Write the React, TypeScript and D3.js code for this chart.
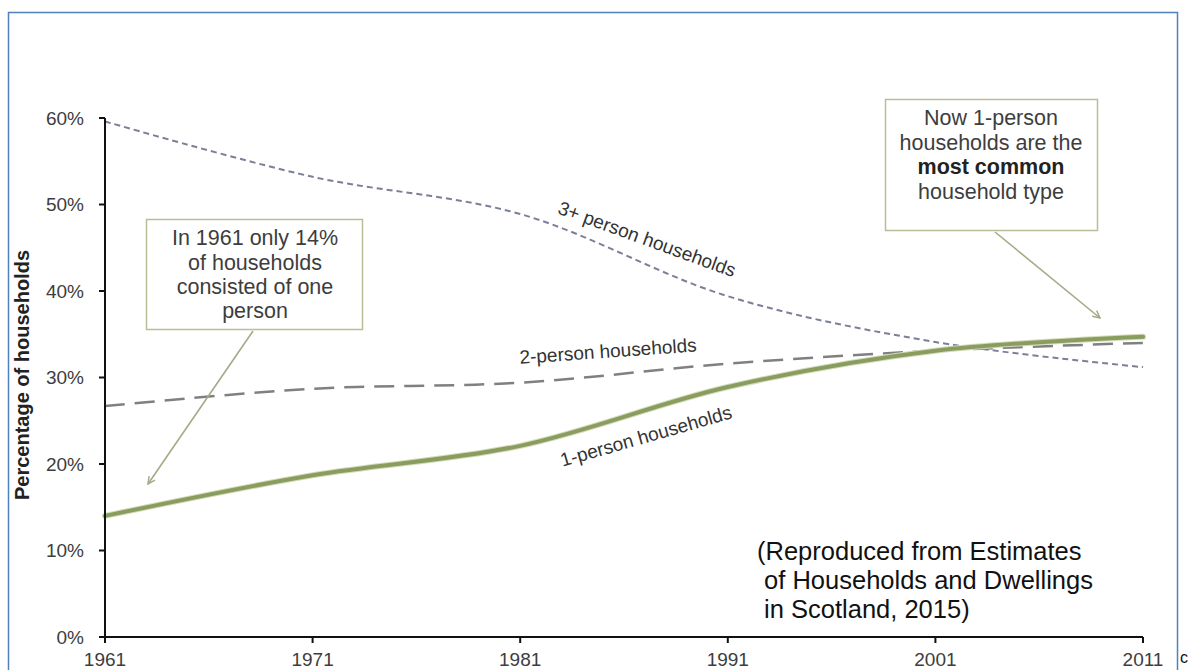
import React from "react";
import * as d3 from "d3";

// Census years and household-size shares (% of all households)
const years = [1961, 1971, 1981, 1991, 2001, 2011];
const onePerson = [14.0, 18.7, 22.1, 28.9, 33.1, 34.7];
const twoPerson = [26.7, 28.7, 29.4, 31.6, 33.1, 34.0];
const threePlus = [59.6, 53.2, 48.9, 39.4, 34.1, 31.2];
const yTicks = [0, 10, 20, 30, 40, 50, 60];

const W = 1193;
const H = 670;
const FONT = "'Liberation Sans', Arial, sans-serif";

const x = d3.scaleLinear().domain([1961, 2011]).range([105, 1143]);
const y = d3.scaleLinear().domain([0, 60]).range([637, 118]);

const lineGen = d3
  .line<number>()
  .x((_, i) => x(years[i]))
  .y((d) => y(d))
  .curve(d3.curveCatmullRom.alpha(0.5));

const boxStroke = "#b7bf98";
const arrowColor = "#a3ab86";
const textGrey = "#3d3d3d";

export default function App() {
  return (
    <svg
      width={W}
      height={H}
      style={{ position: "absolute", left: 0, top: 0, background: "#fff" }}
      fontFamily={FONT}
    >
      <defs>
        <marker
          id="arrowHead"
          viewBox="0 0 10 10"
          refX="9"
          refY="5"
          markerWidth="9"
          markerHeight="9"
          markerUnits="userSpaceOnUse"
          orient="auto"
        >
          <path d="M1,1 L9,5 L1,9" fill="none" stroke={arrowColor} strokeWidth={1.6} />
        </marker>
      </defs>

      {/* outer frame */}
      <rect x={8.5} y={12.5} width={1169} height={700} fill="none" stroke="#4f81bd" strokeWidth={1.5} />

      {/* series */}
      <path d={lineGen(threePlus) ?? ""} fill="none" stroke="#7b7f98" strokeWidth={2} strokeDasharray="6 4" />
      <path d={lineGen(twoPerson) ?? ""} fill="none" stroke="#808080" strokeWidth={2.5} strokeDasharray="20 10" />
      <path d={lineGen(onePerson) ?? ""} fill="none" stroke="#d3dcbc" strokeWidth={6} strokeLinecap="round" />
      <path d={lineGen(onePerson) ?? ""} fill="none" stroke="#8a9d5e" strokeWidth={4} strokeLinecap="round" />

      {/* y axis */}
      <line x1={x(1961)} x2={x(1961)} y1={y(60)} y2={y(0)} stroke="#111" strokeWidth={2} />
      {yTicks.map((t) => (
        <g key={t}>
          <line x1={x(1961) - 6} x2={x(1961)} y1={y(t)} y2={y(t)} stroke="#111" strokeWidth={2} />
          <text x={84} y={y(t)} dy="0.35em" textAnchor="end" fontSize={19} fill={textGrey}>
            {t}%
          </text>
        </g>
      ))}

      {/* x axis */}
      <line x1={x(1961)} x2={x(2011)} y1={y(0)} y2={y(0)} stroke="#111" strokeWidth={2} />
      {years.map((yr) => (
        <g key={yr}>
          <line x1={x(yr)} x2={x(yr)} y1={y(0)} y2={y(0) + 6} stroke="#111" strokeWidth={2} />
          <text x={x(yr)} y={666} textAnchor="middle" fontSize={19} fill={textGrey}>
            {yr}
          </text>
        </g>
      ))}

      {/* y axis title */}
      <text
        transform="translate(29,375) rotate(-90)"
        textAnchor="middle"
        fontSize={20}
        fontWeight="bold"
        fill="#222"
      >
        Percentage of households
      </text>

      {/* series labels */}
      <text transform="translate(647,239) rotate(20)" textAnchor="middle" dy="0.35em" fontSize={19} fill="#333">
        3+ person households
      </text>
      <text transform="translate(608,351) rotate(-4)" textAnchor="middle" dy="0.35em" fontSize={19} fill="#333">
        2-person households
      </text>
      <text transform="translate(646,436) rotate(-16)" textAnchor="middle" dy="0.35em" fontSize={19} fill="#333">
        1-person households
      </text>

      {/* callout: 1961 */}
      <rect x={146.5} y={219.5} width={216} height={110} fill="#fff" stroke={boxStroke} strokeWidth={1.5} />
      <g fontSize={21.5} fill={textGrey} textAnchor="middle">
        <text x={255} y={245}>In 1961 only 14%</text>
        <text x={255} y={270}>of households</text>
        <text x={255} y={294}>consisted of one</text>
        <text x={255} y={318}>person</text>
      </g>
      <line x1={253} y1={331} x2={148} y2={484} stroke={arrowColor} strokeWidth={1.6} markerEnd="url(#arrowHead)" />

      {/* callout: 2011 */}
      <rect x={885.5} y={99.5} width={212} height={131} fill="#fff" stroke={boxStroke} strokeWidth={1.5} />
      <g fontSize={21.5} fill={textGrey} textAnchor="middle">
        <text x={991} y={125}>Now 1-person</text>
        <text x={991} y={150}>households are the</text>
        <text x={991} y={174} fontWeight="bold" fill="#222">most common</text>
        <text x={991} y={199}>household type</text>
      </g>
      <line x1={995} y1={232} x2={1100} y2={318} stroke={arrowColor} strokeWidth={1.6} markerEnd="url(#arrowHead)" />

      {/* source note */}
      <g fontSize={25.5} fill="#111">
        <text x={757} y={560}>(Reproduced from Estimates</text>
        <text x={757} y={589} xmlSpace="preserve"> of Households and Dwellings</text>
        <text x={757} y={618} xmlSpace="preserve"> in Scotland, 2015)</text>
      </g>
      <text x={1180} y={663} fontSize={16} fill="#111">c</text>
    </svg>
  );
}
